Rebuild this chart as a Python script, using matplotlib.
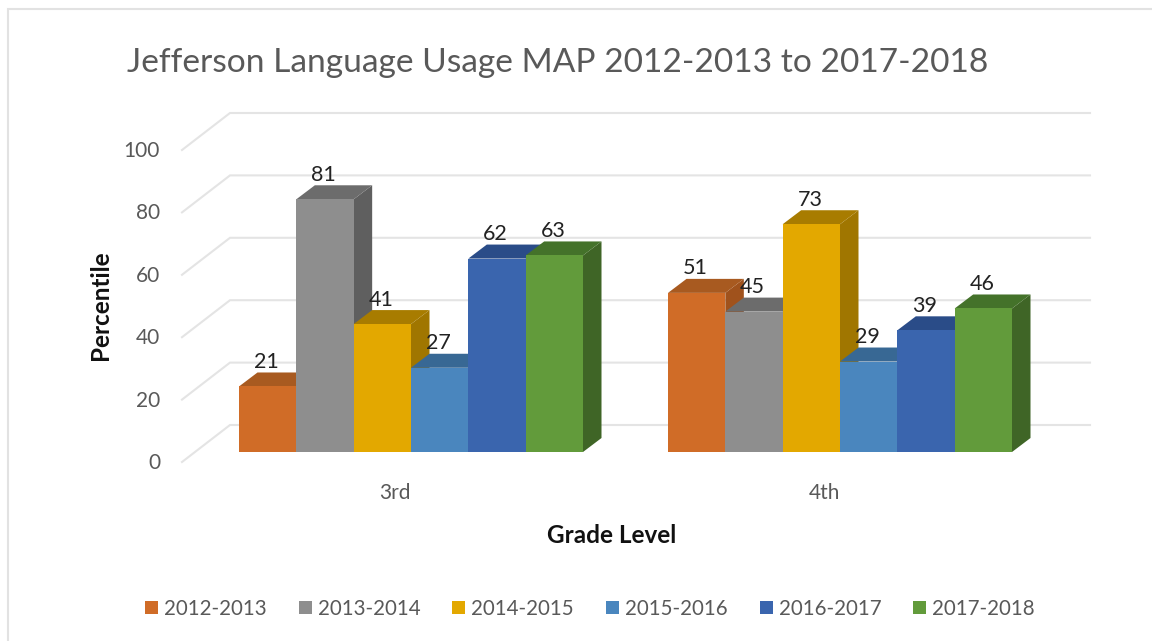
import matplotlib
matplotlib.use("Agg")
import matplotlib.pyplot as plt
from matplotlib.lines import Line2D
from matplotlib.patches import Patch, Polygon
from matplotlib.transforms import ScaledTranslation

categories = ["3rd", "4th"]
series_names = ["2012-2013", "2013-2014", "2014-2015", "2015-2016", "2016-2017", "2017-2018"]
v_2012 = [21, 51]
v_2013 = [81, 45]
v_2014 = [41, 73]
v_2015 = [27, 29]
v_2016 = [62, 39]
v_2017 = [63, 46]
series_values = [v_2012, v_2013, v_2014, v_2015, v_2016, v_2017]
y_ticks = [0, 20, 40, 60, 80, 100]

front = ["#D06C27", "#8E8E8E", "#E3A800", "#4A86BE", "#3A65AE", "#629B3B"]
top = ["#A85A20", "#6C6C6C", "#A87C00", "#386894", "#2A4C88", "#44722A"]
side = ["#A0521C", "#5F5F5F", "#A07600", "#325F88", "#27457C", "#3F6526"]

plt.rcParams["font.family"] = ["Lato", "DejaVu Sans"]
W, H = 1152, 641
fig = plt.figure(figsize=(W / 100, H / 100), dpi=100, facecolor="white")
fig.add_artist(Line2D([8 / W, 8 / W, 1], [0, 1 - 9 / H, 1 - 9 / H], transform=fig.transFigure,
                      color="#E2E2E2", lw=1.5, zorder=-1, solid_joinstyle="miter"))

# axes box in pixels
L, R, T, B = 165, 1100, 100, 470
ax = fig.add_axes([L / W, 1 - B / H, (R - L) / W, (B - T) / H])
ax.patch.set_alpha(0)
px_x = 429.0   # pixels per category
px_y = 3.12    # pixels per percentile
x0_px, y0_px = 411, 452
ax.set_xlim((L - x0_px) / px_x, (R - x0_px) / px_x)
ax.set_ylim((y0_px - B) / px_y, (y0_px - T) / px_y)
for s in ax.spines.values():
    s.set_visible(False)

# wall gridlines
wall_y = 27 / px_y
wall_x0 = (230 - x0_px) / px_x
wall_x1 = (1090 - x0_px) / px_x
diag_x = (182 - x0_px) / px_x
diag_y = -10 / px_y
for v in y_ticks:
    ax.plot([diag_x, wall_x0, wall_x1], [v + diag_y, v + wall_y, v + wall_y],
            color="#E4E4E4", lw=1.5, zorder=1, solid_joinstyle="miter")

# bars
n = len(series_names)
bw = (344 / 6) / px_x
dx = 18.5 / px_x
dy = 14 / px_y
z = 3
for c in range(len(categories)):
    for i in range(n):
        val = series_values[i][c]
        xc = c + (i - (n - 1) / 2) * bw
        xl, xr = xc - bw / 2, xc + bw / 2
        ax.add_patch(Polygon([(xr, 0), (xr + dx, dy), (xr + dx, val + dy), (xr, val)],
                             fc=side[i], ec="none", zorder=z))
        ax.add_patch(Polygon([(xl, val), (xl + dx, val + dy), (xr + dx, val + dy), (xr, val)],
                             fc=top[i], ec="none", zorder=z + 0.1))
        ax.bar(xc, val, width=bw, color=front[i], zorder=z + 0.2)
        z += 1
        ax.annotate(str(val), (xc, val), xytext=(-1, 24.5 * 0.72), textcoords="offset points",
                    ha="center", va="center", fontsize=15.5, color="#222222", zorder=100)

# ticks
ax.set_yticks(y_ticks)
ax.set_xticks(range(len(categories)), categories)
ax.tick_params(axis="y", length=0, pad=3.5, labelsize=15, labelcolor="#595959")
ax.tick_params(axis="x", length=0, pad=9.5, labelsize=15, labelcolor="#595959")
off_y = ScaledTranslation(0, -9 / 100, fig.dpi_scale_trans)
off_x = ScaledTranslation(-16 / 100, 0, fig.dpi_scale_trans)
for t in ax.get_yticklabels():
    t.set_transform(t.get_transform() + off_y)
for t in ax.get_xticklabels():
    t.set_transform(t.get_transform() + off_x)

ax.set_xlabel("Grade Level", fontweight="bold", fontsize=17.5, color="#111111")
ax.xaxis.set_label_coords((612 - L) / (R - L), (B - 534) / (B - T) + 0.026)
ax.set_ylabel("Percentile", fontweight="bold", fontsize=17.5, color="#111111")
ax.yaxis.set_label_coords((112 - L) / (R - L), (B - 305) / (B - T))
ax.set_title("Jefferson Language Usage MAP 2012-2013 to 2017-2018", loc="left",
             x=(127 - L) / (R - L), y=(B - 71) / (B - T), va="center",
             fontsize=24.1, color="#595959")

handles = [Patch(fc=c, ec="none") for c in front]
leg = fig.legend(handles, series_names, ncol=6, loc="center",
                 bbox_to_anchor=(590 / W, 1 - 609 / H), frameon=False,
                 fontsize=14.8, labelcolor="#595959", handlelength=0.63, handleheight=0.63,
                 handletextpad=0.29, columnspacing=1.56)

fig.savefig("out.png", dpi=100)
